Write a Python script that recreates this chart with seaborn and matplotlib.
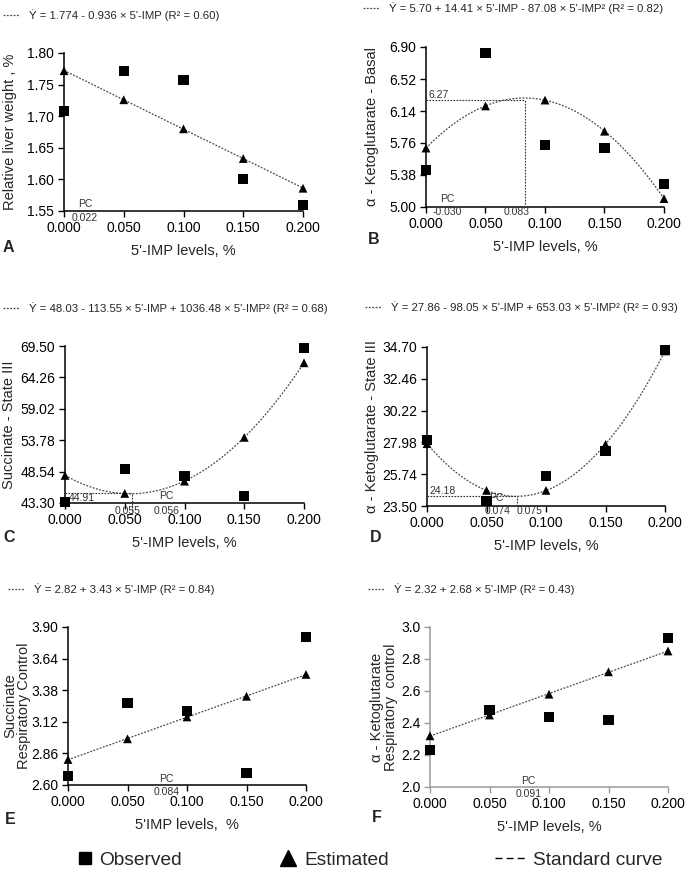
import matplotlib
matplotlib.use("Agg")
import matplotlib.pyplot as plt
from matplotlib.lines import Line2D
import seaborn as sns

W, H = 685, 876

levels = [0.000, 0.050, 0.100, 0.150, 0.200]
xtick_labels = ["0.000", "0.050", "0.100", "0.150", "0.200"]

liver_obs = [1.708, 1.772, 1.757, 1.600, 1.559]
liver_est = [1.772, 1.726, 1.680, 1.633, 1.586]
liver_ticks = [1.55, 1.60, 1.65, 1.70, 1.75, 1.80]

akg_basal_obs = [5.44, 6.83, 5.74, 5.70, 5.27]
akg_basal_est = [5.70, 6.20, 6.27, 5.90, 5.10]
akg_basal_ticks = [5.00, 5.38, 5.76, 6.14, 6.52, 6.90]

succ_s3_obs = [43.41, 49.01, 47.73, 44.52, 69.22]
succ_s3_est = [47.90, 44.90, 46.95, 54.25, 66.70]
succ_s3_ticks = [43.30, 48.54, 53.78, 59.02, 64.26, 69.50]

akg_s3_obs = [28.13, 23.85, 25.61, 27.35, 34.46]
akg_s3_est = [27.89, 24.60, 24.60, 27.84, 34.42]
akg_s3_ticks = [23.50, 25.74, 27.98, 30.22, 32.46, 34.70]

succ_rc_obs = [2.674, 3.271, 3.211, 2.696, 3.818]
succ_rc_est = [2.81, 2.98, 3.16, 3.33, 3.51]
succ_rc_ticks = [2.60, 2.86, 3.12, 3.38, 3.64, 3.90]

akg_rc_obs = [2.23, 2.48, 2.44, 2.42, 2.93]
akg_rc_est = [2.32, 2.45, 2.58, 2.72, 2.85]
akg_rc_ticks = [2.0, 2.2, 2.4, 2.6, 2.8, 3.0]

# optimum (x, y)
akg_basal_opt = (0.083, 6.27)
succ_s3_opt = (0.056, 44.91)
akg_s3_opt = (0.076, 24.18)

sns.set_theme(style="ticks")
plt.rcParams["font.family"] = ["Liberation Sans", "DejaVu Sans"]


def px_rect(left, top, right, bottom):
    return [left / W, 1 - bottom / H, (right - left) / W, (bottom - top) / H]


panels = [
    dict(rect=(64, 53, 303, 211), obs=liver_obs, est=liver_est, order=1,
         yticks=liver_ticks, fmt="{:.2f}", ylabel="Relative liver weight , %",
         ylx=-0.197, xlabel="5'-IMP levels, %",
         eq="Ẏ = 1.774 - 0.936 × 5'-IMP (R² = 0.60)", eqpos=(3, 15),
         letter="A", lpos=(3, 248), opt=None,
         notes=[("PC", 0.0176, 0.045, "center"), ("0.022", 0.0176, -0.045, "center")]),
    dict(rect=(426, 47, 664, 207), obs=akg_basal_obs, est=akg_basal_est, order=2,
         yticks=akg_basal_ticks, fmt="{:.2f}", ylabel="α - Ketoglutarate - Basal",
         ylx=-0.197, xlabel="5'-IMP levels, %",
         eq="Ẏ = 5.70 + 14.41 × 5'-IMP - 87.08 × 5'-IMP² (R² = 0.82)", eqpos=(363, 8),
         letter="B", lpos=(368, 240), opt=akg_basal_opt,
         notes=[("PC", 0.0176, 0.05, "center"), ("-0.030", 0.0176, -0.03, "center"),
                ("0.083", 0.0765, -0.03, "center")]),
    dict(rect=(65, 346, 304, 503), obs=succ_s3_obs, est=succ_s3_est, order=2,
         yticks=succ_s3_ticks, fmt="{:.2f}", ylabel="Succinate - State III",
         ylx=-0.205, xlabel="5'-IMP levels, %",
         eq="Ẏ = 48.03 - 113.55 × 5'-IMP + 1036.48 × 5'-IMP² (R² = 0.68)", eqpos=(3, 308),
         letter="C", lpos=(3, 538), opt=succ_s3_opt,
         notes=[("PC", 0.085, 0.045, "center"), ("0.055", 0.052, -0.05, "center"),
                ("0.056", 0.085, -0.05, "center")]),
    dict(rect=(427, 347, 665, 506), obs=akg_s3_obs, est=akg_s3_est, order=2,
         yticks=akg_s3_ticks, fmt="{:.2f}", ylabel="α - Ketoglutarate - State III",
         ylx=-0.202, xlabel="5'-IMP levels, %",
         eq="Ẏ = 27.86 - 98.05 × 5'-IMP + 653.03 × 5'-IMP² (R² = 0.93)", eqpos=(365, 307),
         letter="D", lpos=(370, 538), opt=akg_s3_opt,
         notes=[("PC", 0.052, 0.05, "left"), ("0.074", 0.059, -0.03, "center"),
                ("0.075", 0.086, -0.03, "center")]),
    dict(rect=(68, 627, 306, 785), obs=succ_rc_obs, est=succ_rc_est, order=1,
         yticks=succ_rc_ticks, fmt="{:.2f}", ylabel="Succinate\nRespiratory Control",
         ylx=-0.155, xlabel="5'IMP levels,  %",
         eq="Ẏ = 2.82 + 3.43 × 5'-IMP (R² = 0.84)", eqpos=(8, 589),
         letter="E", lpos=(5, 820), opt=None,
         notes=[("PC", 0.083, 0.04, "center"), ("0.084", 0.083, -0.044, "center")]),
    dict(rect=(430, 627, 668, 787), obs=akg_rc_obs, est=akg_rc_est, order=1,
         yticks=akg_rc_ticks, fmt="{:.1f}", ylabel="α - Ketoglutarate\nRespiratory  control",
         ylx=-0.134, xlabel="5'-IMP levels, %",
         eq="Ẏ = 2.32 + 2.68 × 5'-IMP (R² = 0.43)", eqpos=(368, 589),
         letter="F", lpos=(372, 817), opt=None, gray=True,
         notes=[("PC", 0.083, 0.04, "center"), ("0.091", 0.083, -0.044, "center")]),
]

curve_style = dict(color="#4a4a4a", lw=0.9, ls=(0, (1.5, 1.2)))

fig = plt.figure(figsize=(W / 100, H / 100), dpi=100)

for p in panels:
    ax = fig.add_axes(px_rect(*p["rect"]))
    sns.regplot(x=levels, y=p["est"], order=p["order"], ci=None, scatter=False,
                truncate=True, ax=ax, line_kws=curve_style)
    sns.scatterplot(x=levels, y=p["est"], marker="^", s=40, color="black",
                    edgecolor="none", ax=ax, clip_on=False, zorder=4)
    sns.scatterplot(x=levels, y=p["obs"], marker="s", s=52, color="black",
                    edgecolor="none", ax=ax, clip_on=False, zorder=5)

    yt = p["yticks"]
    ax.set_xlim(0, 0.2)
    ax.set_ylim(yt[0], yt[-1])
    ax.set_xticks(levels, xtick_labels)
    ax.set_yticks(yt, [p["fmt"].format(v) for v in yt])
    ax.tick_params(direction="out", length=4, width=1, pad=3, labelsize=10, colors="black")
    sns.despine(ax=ax)
    spine_col = "#9a9a9a" if p.get("gray") else "black"
    for s in ("left", "bottom"):
        ax.spines[s].set_color(spine_col)
        ax.spines[s].set_linewidth(1.1)
    ax.tick_params(color=spine_col)

    ax.set_ylabel(p["ylabel"], fontsize=10.5, linespacing=1.0)
    ax.yaxis.set_label_coords(p["ylx"], 0.5)
    ax.set_xlabel(p["xlabel"], fontsize=10.5, labelpad=7)

    if p["opt"] is not None:
        ox, oy = p["opt"]
        span = yt[-1] - yt[0]
        ax.hlines(oy, 0, ox, color="#333333", lw=0.8, ls=(0, (1.5, 1.2)), zorder=3)
        if p["letter"] == "C":
            ax.vlines(ox, yt[0] - 0.07 * span, oy, color="#333333", lw=0.8,
                      ls=(0, (1.5, 1.2)), zorder=3, clip_on=False)
            ax.text(0.003, oy, "44.91", fontsize=7.5, color="#333333",
                    ha="left", va="top")
        else:
            ax.vlines(ox, yt[0], oy, color="#333333", lw=0.8, ls=(0, (1.5, 1.2)), zorder=3)
            ax.text(0.002, oy, "{:.2f}".format(oy), fontsize=7.5, color="#333333",
                    ha="left", va="bottom")

    tr = ax.get_xaxis_transform()
    for txt, nx, ny, ha in p["notes"]:
        ax.text(nx, ny, txt, transform=tr, fontsize=7.5, color="#333333",
                ha=ha, va="center", clip_on=False)

    eq_line = Line2D([], [], **curve_style)
    lx, ly = p["eqpos"]
    fig.legend(handles=[eq_line], labels=[p["eq"]], loc="center left",
               bbox_to_anchor=(lx / W, 1 - ly / H), frameon=False, fontsize=8.2,
               handlelength=1.5, handletextpad=0.8, borderpad=0, borderaxespad=0)

    fx, fy = p["lpos"]
    fig.text(fx / W, 1 - fy / H, p["letter"], fontsize=11.5, fontweight="bold",
             ha="left", va="center")

# bottom legend
leg_items = [
    (Line2D([], [], marker="s", ls="none", color="black", markersize=9), "Observed", 78, 0.7),
    (Line2D([], [], marker="^", ls="none", color="black", markersize=11), "Estimated", 279, 0.9),
    (Line2D([], [], color="black", lw=1, ls=(0, (5, 3))), "Standard curve", 495, 1.6),
]
for handle, label, lx, hl in leg_items:
    fig.legend(handles=[handle], labels=[label], loc="center left",
               bbox_to_anchor=(lx / W, 1 - 860 / H), frameon=False, fontsize=13.8,
               handlelength=hl, handletextpad=0.4, borderpad=0, borderaxespad=0)

fig.savefig("out.png", dpi=100)
